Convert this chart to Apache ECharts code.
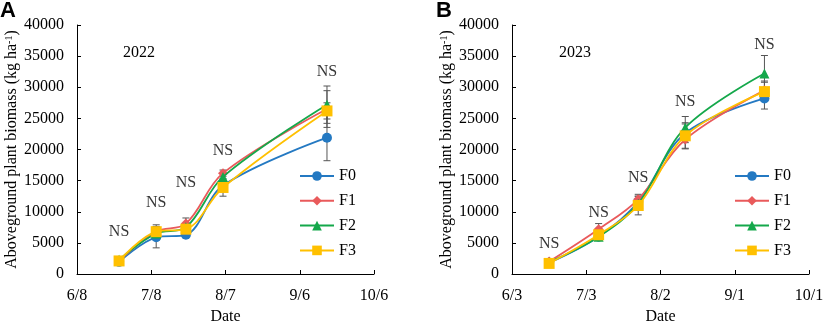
<!DOCTYPE html>
<html>
<head>
<meta charset="utf-8">
<script src="https://cdn.jsdelivr.net/npm/echarts@6/dist/echarts.min.js"></script>
<style>
  html, body {margin: 0; padding: 0; background: #fff;}
  #chart {width: 823px; height: 321px;}
</style>
</head>
<body>
<div id="chart"></div>
<script>
// 处理水平
const treatments = ['F0', 'F1', 'F2', 'F3']
const colors = ['#2479C2', '#E95A5B', '#14A84B', '#FFC000']
const symbols = ['circle', 'diamond', 'triangle', 'rect']

// 2022：取样日期（距 6/8 的天数）
const daysA = [17, 32, 44, 59, 101]
const xTicksA = ['6/8', '7/8', '8/7', '9/6', '10/6']
const biomassA = [
  [1950, 5900, 6300, 14200, 21900],
  [2100, 6800, 8100, 16200, 26500],
  [2300, 6500, 7500, 15600, 27200],
  [2100, 6800, 7200, 13900, 26200]
]
const errorA = [
  [300, 1700, 400, 800, 3700],
  [300, 1100, 900, 500, 2950],
  [300, 600, 600, 600, 3000],
  [300, 800, 700, 1400, 1300]
]
const nsA = [6700, 11400, 14700, 19800, 32500]

// 2023：取样日期（距 6/3 的天数）
const daysB = [15, 35, 51, 70, 102]
const xTicksB = ['6/3', '7/3', '8/2', '9/1', '10/1']
const biomassB = [
  [1800, 6000, 11600, 22600, 28200],
  [2000, 7200, 12000, 21600, 29500],
  [1900, 6000, 11300, 23500, 32200],
  [1700, 6300, 11000, 22200, 29300]
]
const errorB = [
  [200, 500, 900, 1500, 1700],
  [200, 900, 800, 1400, 1500],
  [200, 400, 600, 1800, 2900],
  [200, 500, 1500, 2100, 1500]
]
const nsB = [4800, 9850, 15450, 27600, 36800]

const serif = 'Liberation Serif'
const black = '#000'

const chart = echarts.init(document.getElementById('chart'))

function xAxisOf(idx, ticks) {
  return {
    type: 'value', gridIndex: idx, min: 0, max: 120, interval: 30,
    name: 'Date', nameLocation: 'middle', nameGap: 33,
    nameTextStyle: {fontFamily: serif, fontSize: 16, color: black},
    axisLine: {lineStyle: {color: black, width: 1}},
    axisTick: {inside: true, length: 4, lineStyle: {color: black}},
    axisLabel: {fontFamily: serif, fontSize: 16, color: black, margin: 14,
      formatter: v => ticks[Math.round(v / 30)]},
    splitLine: {show: false}
  }
}

function yAxisOf(idx) {
  return {
    type: 'value', gridIndex: idx, min: 0, max: 40000, interval: 5000,
    name: '{a|Aboveground plant biomass (kg ha}{s|-1}{a|)}',
    nameLocation: 'middle', nameGap: 55,
    nameTextStyle: {
      rich: {
        a: {fontFamily: serif, fontSize: 16, color: black},
        s: {fontFamily: serif, fontSize: 10, color: black, verticalAlign: 'top'}
      }
    },
    axisLine: {show: true, lineStyle: {color: black, width: 1}},
    axisTick: {show: true, inside: true, length: 4, lineStyle: {color: black}},
    axisLabel: {fontFamily: serif, fontSize: 16, color: black, margin: 13,
      formatter: v => String(v)},
    splitLine: {show: false}
  }
}

function lineSeries(idx, days, values) {
  return treatments.map((name, i) => ({
    name, type: 'line', xAxisIndex: idx, yAxisIndex: idx,
    data: days.map((d, j) => [d, values[i][j]]),
    smooth: 0.35,
    symbol: symbols[i], symbolSize: i === 3 ? 11 : 10,
    color: colors[i],
    lineStyle: {width: 1.8, color: colors[i]},
    itemStyle: {color: colors[i]},
    z: 3 + i
  }))
}

function errorSeries(idx, days, values, errors) {
  const data = []
  values.forEach((row, i) => row.forEach((v, j) => {
    data.push([days[j], v - errors[i][j], v + errors[i][j]])
  }))
  return {
    type: 'custom', xAxisIndex: idx, yAxisIndex: idx, silent: true, z: 2,
    encode: {x: 0, y: [1, 2]},
    data,
    renderItem(params, api) {
      const top = api.coord([api.value(0), api.value(2)])
      const bot = api.coord([api.value(0), api.value(1)])
      const w = 3.5
      const style = {stroke: '#555', lineWidth: 1}
      return {
        type: 'group',
        children: [
          {type: 'line', shape: {x1: top[0], y1: top[1], x2: bot[0], y2: bot[1]}, style},
          {type: 'line', shape: {x1: top[0] - w, y1: top[1], x2: top[0] + w, y2: top[1]}, style},
          {type: 'line', shape: {x1: bot[0] - w, y1: bot[1], x2: bot[0] + w, y2: bot[1]}, style}
        ]
      }
    }
  }
}

function nsSeries(idx, days, ns) {
  return {
    type: 'scatter', xAxisIndex: idx, yAxisIndex: idx, silent: true,
    symbolSize: 0,
    data: days.map((d, j) => [d, ns[j]]),
    label: {show: true, position: 'inside', formatter: 'NS',
      fontFamily: serif, fontSize: 16, color: black},
    z: 10
  }
}

function legendOf(left) {
  return {
    data: treatments, orient: 'vertical', left, top: 163,
    itemWidth: 34, itemHeight: 12, itemGap: 8.8, selectedMode: false,
    textStyle: {fontFamily: serif, fontSize: 16, color: black, lineHeight: 16}
  }
}

chart.setOption({
  animation: false,
  backgroundColor: '#fff',
  grid: [
    {left: 77, top: 25, width: 297, height: 249, outerBoundsMode: 'none'},
    {left: 512, top: 25, width: 297, height: 249, outerBoundsMode: 'none'}
  ],
  xAxis: [xAxisOf(0, xTicksA), xAxisOf(1, xTicksB)],
  yAxis: [yAxisOf(0), yAxisOf(1)],
  legend: [legendOf(294), legendOf(729)],
  graphic: [
    {type: 'text', left: 0, top: 0, style: {text: 'A', fontFamily: 'Liberation Sans', fontWeight: 'bold', fontSize: 22, fill: black}},
    {type: 'text', left: 436, top: 0, style: {text: 'B', fontFamily: 'Liberation Sans', fontWeight: 'bold', fontSize: 22, fill: black}},
    {type: 'text', left: 123, top: 45, style: {text: '2022', fontFamily: serif, fontSize: 16, fill: black}},
    {type: 'text', left: 559, top: 45, style: {text: '2023', fontFamily: serif, fontSize: 16, fill: black}}
  ],
  series: [
    errorSeries(0, daysA, biomassA, errorA),
    ...lineSeries(0, daysA, biomassA),
    nsSeries(0, daysA, nsA),
    errorSeries(1, daysB, biomassB, errorB),
    ...lineSeries(1, daysB, biomassB),
    nsSeries(1, daysB, nsB)
  ]
})
</script>
</body>
</html>
